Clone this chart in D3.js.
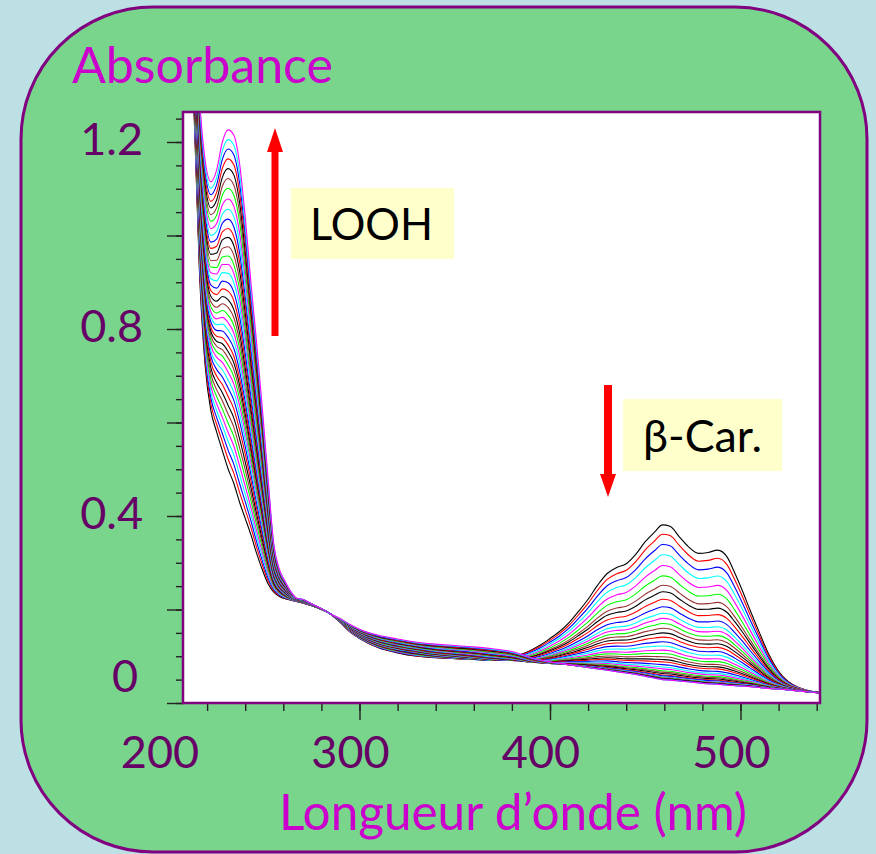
<!DOCTYPE html>
<html><head><meta charset="utf-8">
<script src="https://cdn.jsdelivr.net/npm/d3@7"></script>
<style>html,body{margin:0;padding:0;background:#bde0e4;} svg{display:block}</style>
</head><body>
<svg id="chart" width="876" height="854"></svg>
<script>
// ---- data ----
const wavelengths = [210,213,216,219,222,225,228,231,234,237,240,243,246,249,252,255,258,261,264,267,270,275,280,285,290,295,300,310,320,330,340,350,360,370,380,385,390,395,400,405,410,415,420,425,430,435,440,445,450,455,459,463,468,473,478,483,488,493,497,501,505,510,515,520,525,530,535,541];
// first recorded spectrum (max beta-carotene, no LOOH)
const firstSpectrum = [1.8,1.28,0.92,0.72,0.625,0.58,0.54,0.501,0.47,0.43,0.395,0.36,0.32,0.285,0.255,0.237,0.228,0.223,0.22,0.217,0.214,0.208,0.2,0.19,0.172,0.152,0.138,0.118,0.107,0.1,0.097,0.095,0.093,0.092,0.097,0.104,0.113,0.124,0.138,0.153,0.172,0.196,0.222,0.252,0.277,0.29,0.298,0.318,0.345,0.366,0.381,0.378,0.355,0.333,0.32,0.322,0.327,0.312,0.278,0.24,0.199,0.15,0.103,0.068,0.046,0.034,0.027,0.023];
// last recorded spectrum (max LOOH, carotene bleached)
const lastSpectrum = [2.0,1.6,1.3,1.16,1.115,1.14,1.2,1.226,1.215,1.155,1.04,0.9,0.77,0.63,0.48,0.34,0.285,0.26,0.238,0.224,0.222,0.212,0.202,0.19,0.18,0.168,0.158,0.145,0.137,0.13,0.126,0.123,0.12,0.116,0.11,0.104,0.097,0.092,0.088,0.085,0.082,0.079,0.076,0.073,0.07,0.067,0.064,0.061,0.057,0.053,0.05,0.049,0.047,0.045,0.043,0.041,0.04,0.038,0.037,0.036,0.035,0.033,0.031,0.03,0.028,0.026,0.024,0.022];
// part of the first spectrum due to beta-carotene (bleached away by the end)
const carotenePart = [0,0,0,0,0,0,0,0,0,0,0,0,0,0,0,0,0,0,0,0,0,0,0,0,0,0,0,0,0,0,0.008,0.012,0.016,0.022,0.03,0.038,0.048,0.057,0.069,0.081,0.098,0.122,0.149,0.18,0.207,0.223,0.234,0.257,0.288,0.313,0.331,0.329,0.308,0.288,0.277,0.281,0.287,0.274,0.241,0.204,0.164,0.117,0.072,0.038,0.018,0.008,0.003,0.001];
// absorbance of each recorded curve at the LOOH band (231 nm)
const loohPeak231 = [0.501,0.522,0.541,0.560,0.579,0.599,0.618,0.637,0.656,0.674,0.691,0.708,0.723,0.738,0.752,0.766,0.782,0.798,0.814,0.830,0.846,0.863,0.881,0.899,0.919,0.938,0.956,0.976,0.996,1.015,1.035,1.056,1.078,1.101,1.122,1.143,1.164,1.185,1.205,1.226];
// absorbance of each recorded curve at the beta-carotene band (459 nm)
const carPeak459 = [0.381,0.361,0.339,0.317,0.294,0.272,0.252,0.238,0.222,0.206,0.192,0.181,0.170,0.160,0.150,0.141,0.131,0.122,0.113,0.106,0.099,0.093,0.088,0.082,0.077,0.073,0.069,0.066,0.063,0.060,0.058,0.056,0.055,0.054,0.053,0.052,0.051,0.051,0.050,0.050];
const curveColors = ["#000000","#ff0000","#0000ff","#00ffff","#ff00ff","#00ff00","#993333"];
const xTickLabels = [200,300,400,500];
const yTickLabels = [0,0.4,0.8,1.2];
const xLabel = "Longueur d\u2019onde (nm)";
const yLabel = "Absorbance";

// ---- drawing ----
const FONT = "'Comic Sans MS', Lato, sans-serif";
const svg = d3.select("#chart");
svg.append("rect").attr("width",876).attr("height",854).attr("fill","#bde0e4");
svg.append("rect").attr("x",21).attr("y",7).attr("width",846).attr("height",845)
  .attr("rx",132).attr("ry",132).attr("fill","#79d48c").attr("stroke","#800080").attr("stroke-width",3);

const frame = {left:183, top:112, right:820, bottom:703};
const x = d3.scaleLinear().domain([200,540]).range([169,816.7]);
const y = d3.scaleLinear().domain([0,1.2]).range([703,142]);

svg.append("defs").append("clipPath").attr("id","clip").append("rect")
  .attr("x",frame.left).attr("y",frame.top).attr("width",frame.right-frame.left).attr("height",frame.bottom-frame.top);

svg.append("rect").attr("x",frame.left).attr("y",frame.top)
  .attr("width",frame.right-frame.left).attr("height",frame.bottom-frame.top).attr("fill","#ffffff");

// curves: base + LOOH part (grows) + carotene part (bleaches)
const i231 = wavelengths.indexOf(231), i459 = wavelengths.indexOf(459);
const basePart = firstSpectrum.map((v,j)=>v - carotenePart[j]);
const loohPart = lastSpectrum.map((v,j)=>v - basePart[j]);
const curves = loohPeak231.map((lv,i)=>{
  const p = (lv - firstSpectrum[i231])/(lastSpectrum[i231]-firstSpectrum[i231]);
  const c = (carPeak459[i] - lastSpectrum[i459])/(firstSpectrum[i459]-lastSpectrum[i459]);
  return wavelengths.map((w,j)=>[w, basePart[j] + p*loohPart[j] + c*carotenePart[j]]);
});
const line = d3.line().x(d=>x(d[0])).y(d=>y(d[1])).curve(d3.curveMonotoneX);
svg.append("g").attr("clip-path","url(#clip)").selectAll("path").data(curves).join("path")
  .attr("d",line).attr("fill","none").attr("stroke",(d,i)=>curveColors[i%curveColors.length]).attr("stroke-width",1.1);

// axes ticks
const tickColor = "#222";
const yMinor = d3.range(0,1.2501,0.05).map(v=>+v.toFixed(2));
const yMajor = d3.range(0,1.2001,0.2).map(v=>+v.toFixed(2));
function styleAxis(g){ g.select(".domain").remove(); g.selectAll("line").attr("stroke",tickColor).attr("stroke-width",1.4); g.selectAll("text").remove(); }
svg.append("g").attr("transform",`translate(${frame.left},0)`).call(d3.axisLeft(y).tickValues(yMinor).tickSize(7)).call(styleAxis);
svg.append("g").attr("transform",`translate(${frame.left},0)`).call(d3.axisLeft(y).tickValues(yMajor).tickSize(16)).call(styleAxis);
const xMinor = d3.range(220,541,20);
const xMajor = [300,400,500];
svg.append("g").attr("transform",`translate(0,${frame.bottom})`).call(d3.axisBottom(x).tickValues(xMinor).tickSize(8)).call(styleAxis);
svg.append("g").attr("transform",`translate(0,${frame.bottom})`).call(d3.axisBottom(x).tickValues(xMajor).tickSize(17)).call(styleAxis);

// frame border
svg.append("rect").attr("x",frame.left).attr("y",frame.top)
  .attr("width",frame.right-frame.left).attr("height",frame.bottom-frame.top)
  .attr("fill","none").attr("stroke","#800080").attr("stroke-width",2.5);

// tick labels
svg.append("g").selectAll("text").data(xTickLabels).join("text")
  .attr("x",d=>x(d)-9).attr("y",768).attr("text-anchor","middle")
  .attr("font-family",FONT).attr("font-size",45).attr("fill","#660066").text(d=>d);
svg.append("g").selectAll("text").data(yTickLabels).join("text")
  .attr("x",d=>d===0?138:143).attr("y",d=>d===0?y(d)-11:y(d)+13).attr("text-anchor","end")
  .attr("font-family",FONT).attr("font-size",45).attr("fill","#660066").text(d=>d===0?"0":d.toFixed(1));

// axis titles
svg.append("text").attr("x",72).attr("y",83).attr("font-family",FONT).attr("font-size",50)
  .attr("fill","#cc00cc").attr("textLength",261).attr("lengthAdjust","spacingAndGlyphs").text(yLabel);
svg.append("text").attr("x",279).attr("y",830).attr("font-family",FONT).attr("font-size",50)
  .attr("fill","#cc00cc").attr("textLength",468).attr("lengthAdjust","spacingAndGlyphs").text(xLabel);

// annotations
function arrow(cx, yTail, yHeadBase, yTip, shaftW, headW){
  const s = shaftW/2, h = headW/2;
  const d = `M${cx-s},${yTail} L${cx-s},${yHeadBase} L${cx-h},${yHeadBase} L${cx},${yTip} L${cx+h},${yHeadBase} L${cx+s},${yHeadBase} L${cx+s},${yTail} Z`;
  svg.append("path").attr("d",d).attr("fill","#ff0000");
}
arrow(275, 336, 152, 128, 7, 16);
arrow(608, 385, 474, 497, 8, 16);

svg.append("rect").attr("x",291).attr("y",188).attr("width",163).attr("height",71).attr("fill","#ffffcc");
svg.append("text").attr("x",310).attr("y",240).attr("font-family",FONT).attr("font-size",45)
  .attr("fill","#000").attr("textLength",123).attr("lengthAdjust","spacingAndGlyphs").text("LOOH");
svg.append("rect").attr("x",623).attr("y",399).attr("width",159).attr("height",72).attr("fill","#ffffcc");
svg.append("text").attr("x",643).attr("y",452).attr("font-family",FONT).attr("font-size",44)
  .attr("fill","#000").attr("textLength",119).attr("lengthAdjust","spacingAndGlyphs").text("\u03b2-Car.");
</script>
</body></html>
